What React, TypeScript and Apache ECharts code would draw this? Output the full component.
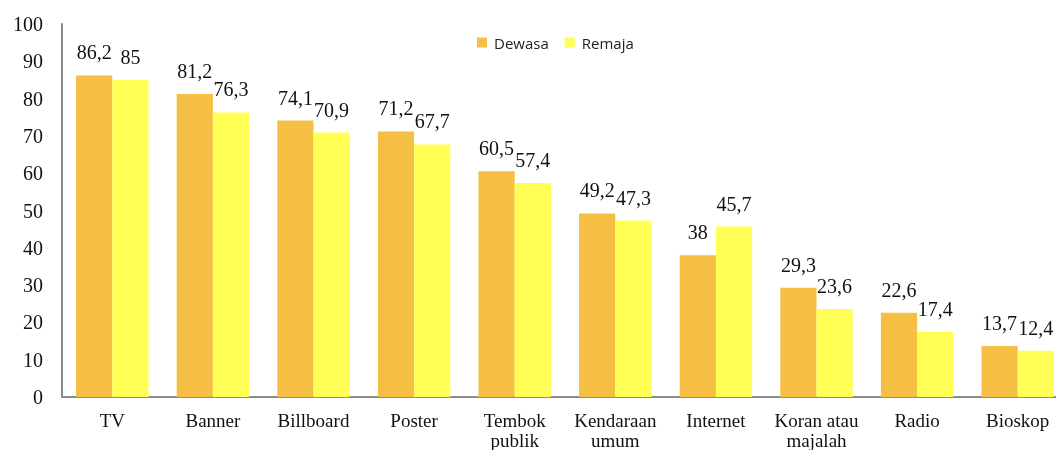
import React, { useEffect, useRef } from "react";
import * as echarts from "echarts";

const categories = ["TV", "Banner", "Billboard", "Poster", "Tembok\npublik", "Kendaraan\numum", "Internet", "Koran atau\nmajalah", "Radio", "Bioskop"];
const dewasa = [86.2, 81.2, 74.1, 71.2, 60.5, 49.2, 38, 29.3, 22.6, 13.7];
const remaja = [85, 76.3, 70.9, 67.7, 57.4, 47.3, 45.7, 23.6, 17.4, 12.4];
const seriesNames = ["Dewasa", "Remaja"];

const serif = "'Liberation Serif', 'Times New Roman', serif";

export default function App() {
  const ref = useRef<HTMLDivElement>(null);
  useEffect(() => {
    if (!ref.current) return;
    const chart = echarts.init(ref.current, null, { renderer: "svg" });
    const label = {
      show: true,
      position: "top",
      distance: 13,
      fontFamily: serif,
      fontSize: 20,
      color: "#111",
      formatter: (p: any) => String(p.value).replace(".", ","),
    };
    chart.setOption({
      animation: false,
      legend: {
        left: 472,
        top: 30,
        itemWidth: 10,
        itemHeight: 10,
        itemGap: 16,
        icon: "rect",
        textStyle: { fontFamily: "'Open Sans', sans-serif", fontSize: 15, color: "#222", padding: [0, 0, 0, 2] },
        data: seriesNames,
      },
      grid: { left: 62, top: 24, bottom: 52, right: 2 },
      xAxis: {
        type: "category",
        data: categories,
        axisTick: { show: false },
        axisLine: { lineStyle: { color: "#8c8c8c", width: 2 } },
        axisLabel: { fontFamily: serif, fontSize: 19, color: "#111", margin: 13, lineHeight: 20, interval: 0 },
      },
      yAxis: {
        type: "value",
        min: 0,
        max: 100,
        interval: 10,
        splitLine: { show: false },
        axisTick: { show: false },
        axisLine: { show: true, lineStyle: { color: "#8c8c8c", width: 2 } },
        axisLabel: { fontFamily: serif, fontSize: 20, color: "#111", margin: 19 },
      },
      series: [
        { name: seriesNames[0], type: "bar", data: dewasa, barGap: "0%", barCategoryGap: "28%", itemStyle: { color: "#F4BF42" }, label },
        { name: seriesNames[1], type: "bar", data: remaja, barGap: "0%", barCategoryGap: "28%", itemStyle: { color: "#FFFF55" }, label },
      ],
    });
    return () => chart.dispose();
  }, []);
  return (
    <div style={{ position: "fixed", left: 0, top: 0, width: 1056, height: 450, overflow: "hidden" }}>
      <div ref={ref} style={{ width: 1070, height: 450 }} />
    </div>
  );
}
